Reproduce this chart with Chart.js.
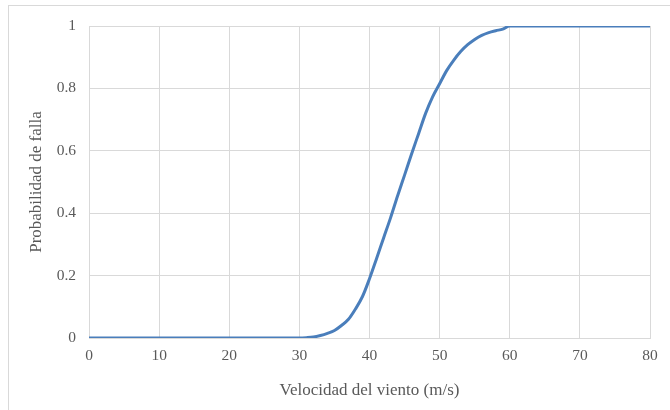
<!DOCTYPE html>
<html>
<head>
<meta charset="utf-8">
<script src="https://cdn.jsdelivr.net/npm/chart.js@4"></script>
<style>
  html, body { margin: 0; padding: 0; background: #fff; }
  #wrap { position: relative; width: 670px; height: 410px; overflow: hidden; }
  #frame { position: absolute; left: 8px; top: 5px; width: 700px; height: 440px; border: 1px solid #d9d9d9; box-sizing: border-box; }
  canvas { position: absolute; left: 0; top: 0; }
</style>
</head>
<body>
<div id="wrap">
  <div id="frame"></div>
  <canvas id="chart" width="670" height="410"></canvas>
</div>
<script>
// Wind speed (m/s) and failure probability
var speeds = [0, 30, 31, 32, 33, 34, 35, 36, 37, 38, 39, 40, 41, 42, 43, 44, 45, 46, 47, 48, 49, 50,
              51, 52, 53, 54, 55, 56, 57, 58, 59, 60, 80];
var probs  = [0, 0, 0.001, 0.003, 0.008, 0.015, 0.024, 0.04, 0.06, 0.093, 0.133, 0.19, 0.254, 0.32, 0.385, 0.455, 0.522, 0.59, 0.655, 0.72, 0.773, 0.815,
              0.857, 0.89, 0.918, 0.94, 0.957, 0.97, 0.979, 0.985, 0.99, 1, 1];

var xTicks = [0, 10, 20, 30, 40, 50, 60, 70, 80];
var yTicks = [0, 0.2, 0.4, 0.6, 0.8, 1];

var points = speeds.map(function (s, i) { return { x: s, y: probs[i] }; });

var textColor = "#595959";
var gridColor = "#d9d9d9";
var family = "'Liberation Serif', 'Times New Roman', serif";
var tickFont = { family: family, size: 15.5 };
var titleFont = { family: family, size: 17 };

new Chart(document.getElementById("chart"), {
  type: "scatter",
  data: {
    datasets: [{
      data: points,
      showLine: true,
      borderColor: "#4a7ebb",
      borderWidth: 3,
      pointRadius: 0,
      fill: false,
      cubicInterpolationMode: "monotone"
    }]
  },
  options: {
    responsive: false,
    animation: false,
    devicePixelRatio: 1,
    layout: { padding: { top: 26, right: 20, left: 0, bottom: 0 } },
    plugins: { legend: { display: false }, tooltip: { enabled: false } },
    scales: {
      x: {
        type: "linear",
        min: 0,
        max: 80,
        afterBuildTicks: function (scale) {
          scale.ticks = xTicks.map(function (v) { return { value: v }; });
        },
        afterFit: function (scale) { scale.height = 72; },
        grid: { color: gridColor, drawTicks: false },
        border: { color: gridColor },
        ticks: { color: textColor, font: tickFont, padding: 9, maxRotation: 0 },
        title: {
          display: true,
          text: "Velocidad del viento (m/s)",
          color: textColor,
          font: titleFont,
          padding: { top: 0, bottom: 9 }
        }
      },
      y: {
        min: 0,
        max: 1,
        afterBuildTicks: function (scale) {
          scale.ticks = yTicks.map(function (v) { return { value: v }; });
        },
        afterFit: function (scale) { scale.width = 89; },
        grid: { color: gridColor, drawTicks: false },
        border: { color: gridColor },
        ticks: {
          color: textColor,
          font: tickFont,
          padding: 13,
          callback: function (v) { return String(Math.round(v * 10) / 10); }
        },
        title: {
          display: true,
          text: "Probabilidad de falla",
          color: textColor,
          font: titleFont,
          padding: { top: 26, bottom: 0 }
        }
      }
    }
  }
});
</script>
</body>
</html>
